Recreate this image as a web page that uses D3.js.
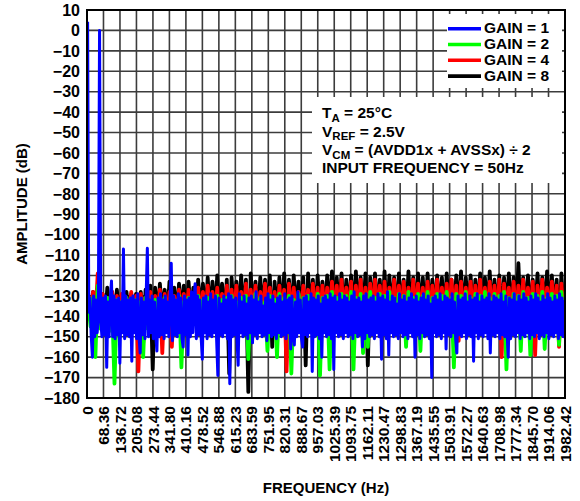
<!DOCTYPE html>
<html><head><meta charset="utf-8">
<script src="https://cdn.jsdelivr.net/npm/d3@7"></script>
<style>
body{margin:0;background:#fff}
svg{display:block}
text{font-family:"Liberation Sans",Arial,Helvetica,sans-serif;font-weight:bold;fill:#000}
</style>
</head><body>
<svg id="chart" width="580" height="501"></svg>
<script>
// ---------- data ----------
const xTickLabels = ["0","68.36","136.72","205.08","273.44","341.80","410.16","478.52","546.88","615.23",
  "683.59","751.95","820.31","888.67","957.03","1025.39","1093.75","1162.11","1230.47","1298.83",
  "1367.19","1435.55","1503.91","1572.27","1640.63","1708.98","1777.34","1845.70","1914.06","1982.42"];
const yTicks = [10,0,-10,-20,-30,-40,-50,-60,-70,-80,-90,-100,-110,-120,-130,-140,-150,-160,-170,-180];
const seriesNames = ["GAIN = 1","GAIN = 2","GAIN = 4","GAIN = 8"];
const seriesColors = ["#0000ff","#00ff00","#ff0000","#000000"];
const annotations = ["T|A| = 25°C","V|REF| = 2.5V","V|CM| = (AVDD1x + AVSSx) ÷ 2","INPUT FREQUENCY = 50Hz"];
const fMax = 1982.42;

// amplitude (dB) per FFT bin, bins spanning 0 Hz to 1982.42 Hz
const gain8 = [
 -132,-140,-128,-141,-127,-139,-129,-142,-126,-140,-128,-143,-127,-140,-130,-141,-128,-139,-129,-142,
 -129,-141,-128,-153,-127,-140,-125,-166,-126,-141,-124,-140,-127,-142,-123,-139,-126,-141,-124,-140,
 -125,-142,-123,-140,-126,-141,-122,-139,-124,-142,-121,-140,-123,-141,-120,-139,-124,-143,-122,-168,
 -121,-140,-123,-141,-120,-142,-122,-177,-119,-140,-123,-141,-121,-139,-122,-142,-120,-155,-123,-140,
 -121,-141,-119,-140,-122,-142,-120,-139,-123,-141,-121,-164,-119,-140,-122,-142,-120,-139,-123,-141,
 -120,-140,-118,-142,-121,-139,-119,-141,-122,-140,-120,-142,-118,-139,-121,-141,-119,-164,-121,-140,
 -119,-141,-122,-140,-118,-142,-120,-139,-121,-141,-119,-140,-122,-142,-118,-139,-121,-141,-119,-140,
 -121,-142,-119,-139,-122,-141,-120,-140,-121,-142,-119,-139,-122,-141,-120,-140,-118,-142,-121,-139,
 -120,-141,-122,-140,-119,-142,-121,-139,-118,-141,-122,-140,-120,-142,-121,-139,-119,-141,-121,-140,
 -114,-142,-121,-139,-120,-141,-122,-140,-119,-142,-121,-139,-118,-141,-120,-140,-122,-149,-119,-141];
const gain4 = [
 -130,-142,-128,-140,-119,-143,-129,-141,-131,-143,-128,-140,-130,-142,-129,-141,-131,-143,-128,-140,
 -130,-167,-129,-142,-131,-140,-128,-143,-130,-141,-127,-158,-129,-142,-128,-155,-130,-141,-127,-143,
 -129,-140,-127,-142,-130,-141,-126,-143,-128,-140,-125,-142,-128,-141,-126,-143,-129,-140,-125,-142,
 -127,-141,-125,-143,-128,-140,-124,-142,-127,-141,-125,-143,-128,-140,-124,-142,-126,-141,-128,-143,
 -125,-140,-127,-167,-124,-142,-126,-141,-128,-143,-125,-140,-127,-142,-124,-141,-126,-143,-125,-140,
 -126,-142,-123,-141,-125,-143,-122,-140,-126,-142,-123,-155,-125,-141,-122,-143,-126,-140,-124,-142,
 -122,-141,-125,-143,-123,-140,-126,-142,-122,-141,-125,-143,-123,-140,-126,-142,-122,-141,-124,-143,
 -126,-140,-123,-142,-125,-141,-122,-143,-126,-140,-124,-142,-122,-141,-125,-152,-123,-142,-126,-140,
 -123,-141,-125,-143,-122,-140,-126,-142,-123,-141,-125,-143,-122,-160,-124,-140,-126,-142,-123,-141,
 -125,-143,-122,-140,-126,-142,-123,-159,-125,-141,-122,-143,-126,-140,-123,-142,-125,-155,-124,-141];
const gain2 = [
 -134,-145,-131,-160,-125,-146,-133,-144,-131,-147,-134,-173,-132,-145,-133,-146,-131,-144,-134,-147,
 -132,-145,-133,-160,-131,-146,-134,-144,-132,-147,-133,-145,-131,-146,-134,-144,-132,-147,-130,-165,
 -133,-145,-131,-146,-134,-144,-130,-147,-132,-145,-131,-146,-133,-144,-130,-147,-132,-145,-131,-146,
 -130,-144,-133,-147,-131,-145,-130,-161,-132,-146,-129,-144,-131,-147,-133,-157,-130,-145,-132,-160,
 -129,-146,-131,-144,-130,-168,-132,-145,-129,-147,-131,-144,-130,-146,-132,-145,-129,-169,-131,-144,
 -130,-166,-128,-145,-131,-147,-129,-144,-130,-146,-128,-166,-131,-145,-129,-158,-130,-155,-128,-146,
 -131,-144,-129,-147,-130,-145,-128,-146,-131,-144,-129,-147,-130,-155,-128,-145,-131,-146,-129,-157,
 -130,-144,-128,-147,-131,-145,-129,-146,-130,-144,-128,-147,-131,-165,-129,-145,-130,-146,-128,-144,
 -131,-147,-129,-145,-130,-146,-128,-144,-131,-147,-129,-145,-130,-146,-128,-166,-131,-144,-129,-147,
 -130,-157,-128,-145,-131,-159,-129,-146,-130,-144,-128,-156,-131,-145,-129,-147,-130,-154,-128,-146];
const gain1 = [
 4.3,-138,-131,-149,-160,-130,-150,-132,-148,-140,0,-142,-150,-131,-149,-130,-165,-133,-150,-131,
 -122.7,-150,-130,-151,-132,-149,-131,-163,-133,-148,-107,-151,-130,-149,-132,-150,-131,-162,-130,-148,
 -132,-151,-129,-150,-158,-131,-149,-133,-151,-130,-106.7,-150,-132,-148,-130,-151,-133,-149,-157,-131,
 -150,-129,-149,-132,-151,-130,-148,-133,-150,-131,-114,-152,-130,-149,-132,-150,-129,-148,-131,-151,
 -155,-130,-149,-132,-159,-131,-150,-128,-148,-133,-124,-151,-130,-149,-132,-150,-161,-131,-148,-130,
 -151,-133,-149,-129,-150,-132,-148,-130,-152,-169,-131,-149,-134,-150,-130,-148,-132,-151,-129,-173,
 -130,-150,-132,-149,-131,-151,-164,-129,-148,-133,-150,-130,-149,-134,-151,-131,-148,-130,-153,-132,
 -149,-128,-151,-133,-148,-130,-150,-135,-149,-131,-152,-129,-148,-132,-150,-130,-149,-134,-151,-131,
 -148,-130,-150,-133,-149,-129,-151,-132,-148,-131,-156,-130,-149,-154,-133,-150,-128,-148,-132,-151,
 -155,-131,-149,-130,-150,-133,-148,-129,-167,-131,-150,-132,-149,-130,-151,-134,-160,-131,-148,-130,
 -150,-132,-149,-129,-151,-131,-166,-130,-148,-133,-150,-129,-149,-132,-151,-130,-148,-131,-150,-133,
 -149,-130,-151,-128,-148,-132,-150,-131,-149,-133,-155,-130,-151,-129,-148,-132,-150,-131,-149,-130,
 -151,-133,-148,-129,-150,-131,-161,-130,-149,-132,-151,-128,-159,-133,-148,-130,-150,-131,-149,-134,
 -151,-129,-148,-132,-150,-130,-149,-133,-151,-131,-148,-129,-150,-132,-160,-130,-149,-133,-151,-131,
 -148,-129,-150,-132,-149,-130,-151,-134,-170,-131,-148,-130,-150,-132,-149,-129,-151,-133,-148,-130,
 -156,-131,-149,-132,-150,-129,-148,-133,-151,-158,-130,-149,-132,-150,-131,-148,-129,-151,-133,-149,
 -130,-150,-132,-162,-131,-148,-129,-151,-133,-149,-130,-150,-132,-148,-131,-151,-129,-158,-133,-149,
 -130,-150,-131,-148,-132,-151,-129,-149,-133,-150,-130,-148,-160,-131,-151,-132,-149,-129,-150,-133,
 -148,-130,-151,-132,-149,-129,-150,-131,-148,-133,-151,-130,-149,-132,-150,-129,-148,-131,-151,-133,
 -149,-130,-150,-132,-148,-129,-151,-131,-149,-133,-150,-130,-148,-132,-151,-129,-149,-131,-150,-132];

const seriesData = [gain1, gain2, gain4, gain8];
const seriesWidths = [3, 3.8, 3.8, 3.8];

// ---------- layout ----------
const svg = d3.select("#chart");
const L = 87, R = 565, T = 10, B = 398;
const x = d3.scaleLinear().domain([0, fMax]).range([L, R]);
const y = d3.scaleLinear().domain([-180, 10]).range([B, T]);
const xTickVals = xTickLabels.map(Number);

svg.append("rect").attr("width",580).attr("height",501).attr("fill","#fff");

// grid
const grid = svg.append("g").attr("stroke","#3c3c3c").attr("stroke-width",1.6);
grid.selectAll("line.h").data(yTicks.slice(1,-1)).join("line")
  .attr("x1",L).attr("x2",R).attr("y1",d=>y(d)).attr("y2",d=>y(d));
grid.selectAll("line.v").data(xTickVals.slice(1,-1)).join("line")
  .attr("y1",T).attr("y2",B).attr("x1",d=>x(d)).attr("x2",d=>x(d));

// white boxes for legend & annotation
svg.append("rect").attr("x",447).attr("y",14).attr("width",115).attr("height",74).attr("fill","#fff");
svg.append("rect").attr("x",312).attr("y",97).attr("width",250).attr("height",86).attr("fill","#fff");

// data (bin centres)
svg.append("clipPath").attr("id","pc").append("rect")
  .attr("x",L+1).attr("y",T).attr("width",R-L-1).attr("height",B-T);
const dg = svg.append("g").attr("clip-path","url(#pc)");
for (let s = seriesData.length-1; s >= 0; s--) {
  const arr = seriesData[s];
  const binHz = fMax/arr.length;
  const line = d3.line().x((d,i)=>x((i+0.5)*binHz)).y(d=>y(d));
  dg.append("path").datum(arr).attr("d",line)
    .attr("fill","none").attr("stroke",seriesColors[s]).attr("stroke-width",seriesWidths[s])
    .attr("stroke-linejoin","round");
}

// frame
svg.append("rect").attr("x",L).attr("y",T).attr("width",R-L).attr("height",B-T)
  .attr("fill","none").attr("stroke","#000").attr("stroke-width",2);

// y axis labels
svg.append("g").selectAll("text").data(yTicks).join("text")
  .attr("x",80).attr("y",d=>y(d)).attr("dy","0.36em").attr("text-anchor","end")
  .style("font-size","16px").text(d=>d<0?"\u2212"+Math.abs(d):String(d));

// x axis labels
svg.append("g").selectAll("text").data(xTickLabels).join("text")
  .attr("transform",d=>`translate(${x(+d)},406) rotate(-90)`)
  .attr("dy","0.36em").attr("text-anchor","end")
  .style("font-size","15.5px").text(d=>d);

// axis titles
svg.append("text").attr("transform",`translate(27,${(T+B)/2}) rotate(-90)`)
  .attr("text-anchor","middle").style("font-size","15px").text("AMPLITUDE (dB)");
svg.append("text").attr("x",(L+R)/2).attr("y",493)
  .attr("text-anchor","middle").style("font-size","15px").text("FREQUENCY (Hz)");

// legend
const lg = svg.append("g");
seriesNames.forEach((n,i)=>{
  const by = 33.3 + i*15.8;
  lg.append("line").attr("x1",448).attr("x2",481).attr("y1",by-4.6).attr("y2",by-4.6)
    .attr("stroke",seriesColors[i]).attr("stroke-width",3.6);
  lg.append("text").attr("x",484).attr("y",by).style("font-size","15.5px").text(n);
});

// annotations
const ab = [118.3,136.7,155,173.3];
annotations.forEach((a,i)=>{
  const parts = a.split("|");
  const t = svg.append("text").attr("x",322).attr("y",ab[i]).style("font-size","15.5px");
  if (parts.length === 1) { t.text(a); return; }
  t.append("tspan").text(parts[0]);
  t.append("tspan").attr("dy",3.5).style("font-size","11.5px").text(parts[1]);
  t.append("tspan").attr("dy",-3.5).text(parts[2]);
});
</script>
</body></html>
